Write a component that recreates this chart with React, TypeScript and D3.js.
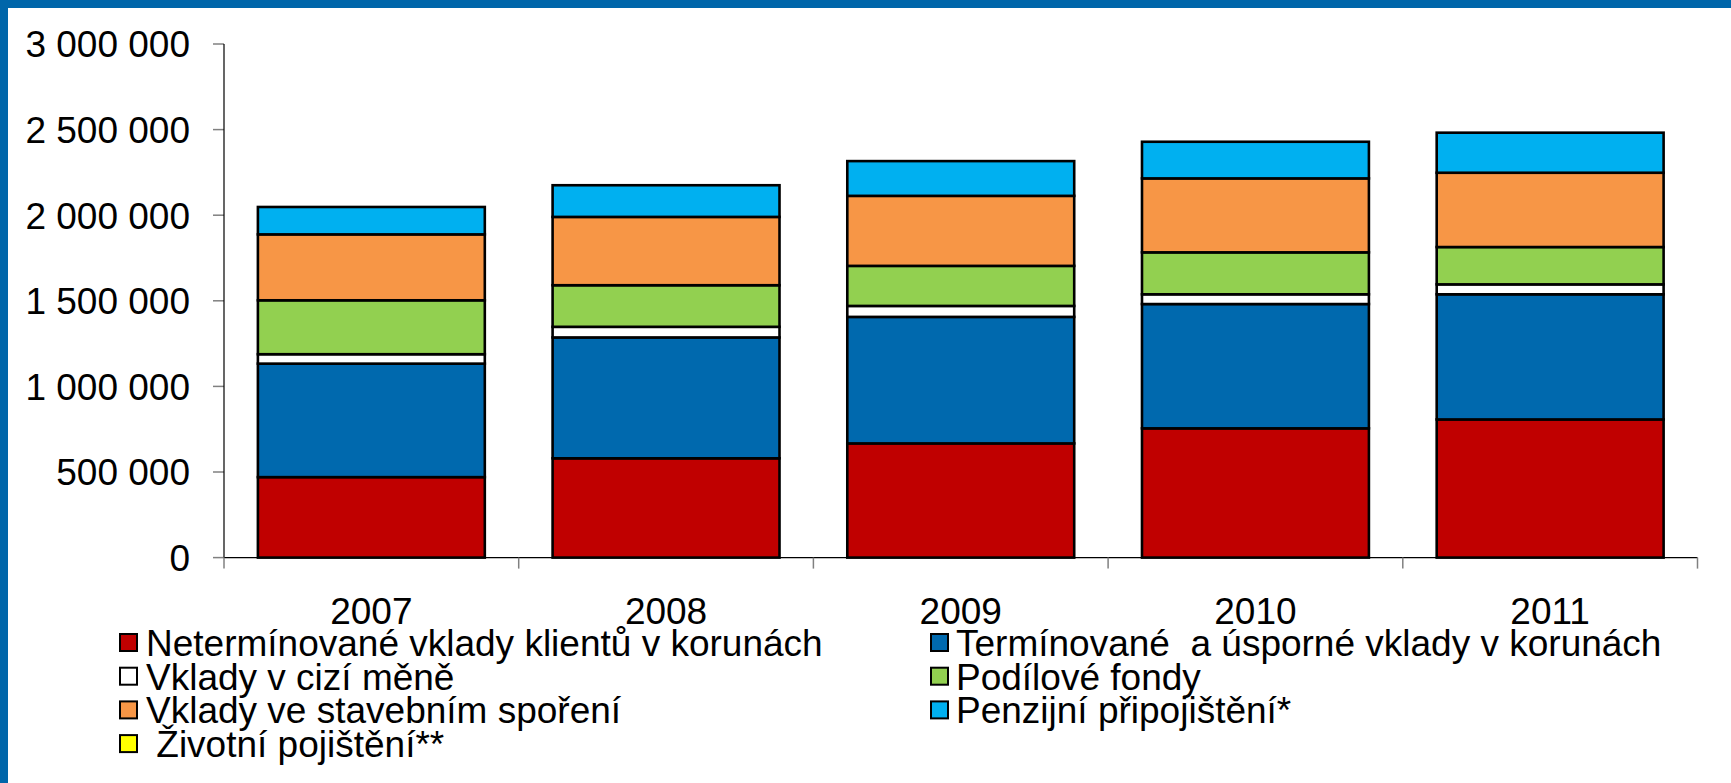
import React from 'react';
import * as d3 from 'd3';

// years on the x axis
const years = ['2007', '2008', '2009', '2010', '2011'];

// series values (mil. Kč), bottom to top of the stack
const netermVklady = [470000, 580000, 667000, 755000, 807000];
const terminVklady = [663000, 706000, 739000, 726000, 731000];
const ciziMena = [55000, 62000, 64000, 57000, 58000];
const podiloveFondy = [315000, 243000, 234000, 245000, 218000];
const stavebniSporeni = [385000, 399000, 409000, 432000, 434000];
const penzijni = [160000, 185000, 203000, 214000, 234000];
const zivotni = [0, 0, 0, 0, 0];

const yTicks = [0, 500000, 1000000, 1500000, 2000000, 2500000, 3000000];

type Series = { key: string; label: string; color: string; values: number[] };

const series: Series[] = [
  { key: 'neterm', label: 'Netermínované vklady klientů v korunách', color: '#C00000', values: netermVklady },
  { key: 'termin', label: 'Termínované  a úsporné vklady v korunách', color: '#0069AE', values: terminVklady },
  { key: 'cizi', label: 'Vklady v cizí měně', color: '#FFFFFF', values: ciziMena },
  { key: 'fondy', label: 'Podílové fondy', color: '#92D050', values: podiloveFondy },
  { key: 'stavebni', label: 'Vklady ve stavebním spoření', color: '#F79646', values: stavebniSporeni },
  { key: 'penzijni', label: 'Penzijní připojištění*', color: '#00B0F0', values: penzijni },
  { key: 'zivotni', label: ' Životní pojištění**', color: '#FFFF00', values: zivotni },
];

const W = 1731;
const H = 783;
const FONT = '"Liberation Sans", Arial, sans-serif';

export default function App() {
  const x = d3.scaleBand<string>()
    .domain(years)
    .range([224, 1697.5])
    .paddingInner(0.23)
    .paddingOuter(0.115);

  const y = d3.scaleLinear().domain([0, 3000000]).range([557.6, 44]);

  const rows = years.map((yr, i) => {
    const r: Record<string, number | string> = { year: yr };
    series.forEach(s => { r[s.key] = s.values[i]; });
    return r;
  });

  const stacked = d3.stack<Record<string, number | string>>()
    .keys(series.map(s => s.key))
    .value((d, k) => d[k] as number)(rows);

  const fmt = d3.formatLocale({ decimal: ',', thousands: ' ', grouping: [3], currency: ['', ''] }).format(',d');

  const step = x.step();
  const x0 = x.range()[0];
  const boundaries = d3.range(years.length + 1).map(i => x0 + i * step);

  // legend layout: two columns (square x, text x)
  const legendCols = [
    { sq: 120, tx: 146 },
    { sq: 931, tx: 956 },
  ];
  const legendBase = 656;
  const legendRow = 33.7;

  return (
    <div style={{ position: 'fixed', left: 0, top: 0 }}>
      <svg width={W} height={H} viewBox={`0 0 ${W} ${H}`} style={{ display: 'block', fontFamily: FONT }}>
        <rect x={0} y={0} width={W} height={H} fill="#fff" />
        {/* frame */}
        <rect x={0} y={0} width={W} height={8} fill="#0066AA" />
        <rect x={0} y={0} width={8} height={H} fill="#0066AA" />

        {/* y ticks and labels */}
        {yTicks.map(t => (
          <g key={t}>
            <line x1={213} x2={224} y1={y(t)} y2={y(t)} stroke="#808080" strokeWidth={1.5} />
            <text x={190} y={y(t)} dy="0.36em" textAnchor="end" fontSize={37} fill="#000">{fmt(t)}</text>
          </g>
        ))}

        {/* bars */}
        {stacked.map((layer, li) => (
          <g key={layer.key} fill={series[li].color}>
            {layer.map((seg, i) => {
              const h = y(seg[0]) - y(seg[1]);
              if (h <= 0) return null;
              return (
                <rect
                  key={years[i]}
                  x={x(years[i])}
                  y={y(seg[1])}
                  width={x.bandwidth()}
                  height={h}
                  stroke="#000"
                  strokeWidth={2.6}
                />
              );
            })}
          </g>
        ))}

        {/* axes */}
        <line x1={224} x2={224} y1={y(3000000)} y2={y(0)} stroke="#000" strokeWidth={1.2} />
        <line x1={224} x2={boundaries[boundaries.length - 1]} y1={y(0)} y2={y(0)} stroke="#000" strokeWidth={1.2} />
        {boundaries.map(b => (
          <line key={b} x1={b} x2={b} y1={y(0)} y2={y(0) + 11} stroke="#808080" strokeWidth={1.5} />
        ))}

        {/* category labels */}
        {years.map(yr => (
          <text key={yr} x={(x(yr) as number) + x.bandwidth() / 2} y={624} textAnchor="middle" fontSize={37} fill="#000">{yr}</text>
        ))}

        {/* legend */}
        {series.map((s, i) => {
          const col = legendCols[i % 2];
          const row = Math.floor(i / 2);
          const ly = legendBase + row * legendRow;
          return (
            <g key={s.key}>
              <rect x={col.sq} y={ly - 22} width={17} height={17} fill={s.color} stroke="#000" strokeWidth={2} />
              <text x={col.tx} y={ly} fontSize={37} fill="#000" style={{ whiteSpace: 'pre' }}>{s.label}</text>
            </g>
          );
        })}
      </svg>
    </div>
  );
}
